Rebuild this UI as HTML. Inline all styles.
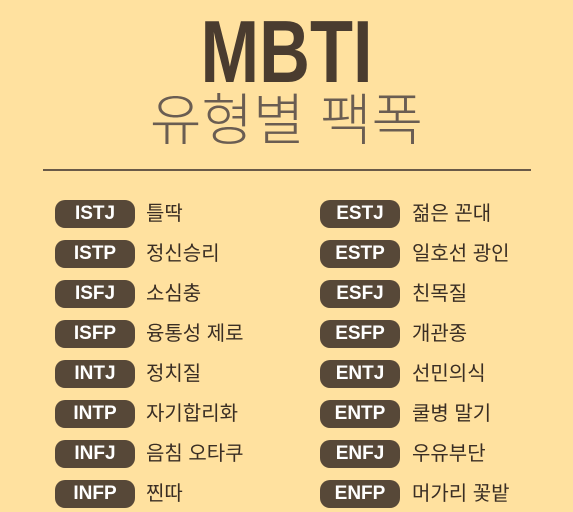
<!DOCTYPE html>
<html><head><meta charset="utf-8"><style>
body{margin:0;width:573px;height:512px;background:#ffe19f;overflow:hidden;position:relative;font-family:"Liberation Sans","Noto Sans CJK KR",sans-serif}
.t{position:absolute;left:0;width:573px;text-align:center}
.pill{position:absolute;width:80px;height:28px;border-radius:10px;background:#574838;color:#fff;font-weight:bold;font-size:19px;line-height:28px;text-align:center}
.lb{position:absolute;font-size:20px;color:#3a2e24;line-height:28px;font-family:"Liberation Sans","Noto Sans CJK KR",sans-serif}
</style></head><body>
<div class="t" style="top:4px;font-size:88px;font-weight:bold;color:#4a3c2f;transform:scaleX(0.8);line-height:96px">MBTI</div>
<div class="t" style="top:88px;font-size:56px;color:#6a5d52;line-height:66px;font-weight:300">유형별 팩폭</div>
<div style="position:absolute;left:43px;top:169px;width:488px;height:2px;background:#6a5a48"></div>
<div id="rows"></div>
<script>
const leftTypes=["ISTJ","ISTP","ISFJ","ISFP","INTJ","INTP","INFJ","INFP"];
const leftLabels=["틀딱","정신승리","소심충","융통성 제로","정치질","자기합리화","음침 오타쿠","찐따"];
const rightTypes=["ESTJ","ESTP","ESFJ","ESFP","ENTJ","ENTP","ENFJ","ENFP"];
const rightLabels=["젊은 꼰대","일호선 광인","친목질","개관종","선민의식","쿨병 말기","우유부단","머가리 꽃밭"];
const root=document.getElementById('rows');
function add(type,label,px,tx,y){
 const p=document.createElement('div');p.className='pill';p.textContent=type;
 p.style.left=px+'px';p.style.top=y+'px';
 
 
 root.appendChild(p);
 const l=document.createElement('div');l.className='lb';l.textContent=label;
 l.style.left=tx+'px';l.style.top=y+'px';
 
 
 root.appendChild(l);
}
for(let i=0;i<8;i++){
 const y=200+i*40;
 add(leftTypes[i],leftLabels[i],55,146,y);
 add(rightTypes[i],rightLabels[i],320,412,y);
}
</script>
</body></html>
